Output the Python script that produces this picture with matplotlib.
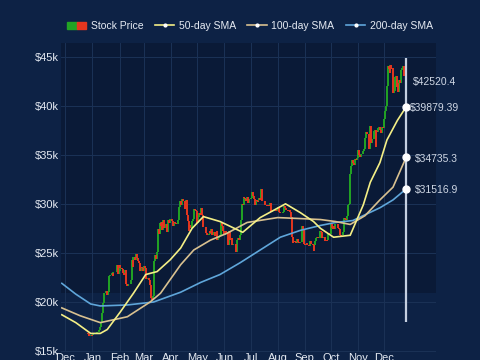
import numpy as np
import pandas as pd
import matplotlib
matplotlib.use('Agg')
import matplotlib.pyplot as plt
import matplotlib.dates as mdates
from matplotlib.lines import Line2D
from matplotlib.patches import Patch
from matplotlib.legend_handler import HandlerTuple
from matplotlib.ticker import FuncFormatter

# daily closes (k$), 2022-12-27 .. 2023-12-26
start = '2022-12-27'
prev_close_k = 16.84
closes_k = [
    16.72, 16.55, 16.64, 16.60, 16.55,
    # jan
    16.60, 16.70, 16.70, 16.85, 16.83, 16.95, 16.94, 17.09, 17.19, 17.44, 17.94, 18.85, 19.93, 20.95, 20.87, 21.17,
    21.16, 20.68, 21.07, 22.67, 22.78, 22.71, 22.93, 22.64, 23.06, 23.01, 23.08, 23.03, 23.77, 22.84, 23.14,
    # feb
    23.72, 23.47, 23.43, 23.33, 22.94, 22.76, 23.26, 22.96, 21.80, 21.63, 21.86, 21.79, 21.79, 22.20, 24.32, 23.52,
    24.57, 24.63, 24.31, 24.84, 24.44, 24.19, 23.95, 23.20, 23.17, 23.55, 23.49, 23.15,
    # mar
    23.65, 23.47, 22.36, 22.35, 22.43, 22.41, 22.20, 21.70, 20.36, 20.19, 20.63, 22.16, 24.20, 24.75, 24.38, 25.05,
    27.42, 26.97, 28.04, 27.77, 28.18, 27.31, 28.33, 27.49, 27.49, 27.99, 27.14, 27.27, 28.35, 28.03, 28.48,
    # apr
    28.45, 28.22, 27.79, 28.17, 28.18, 28.04, 27.93, 27.95, 28.33, 29.65, 30.24, 29.92, 30.40, 30.49, 30.32, 30.32,
    29.45, 30.40, 28.82, 28.25, 27.28, 27.82, 27.59, 27.51, 28.30, 28.42, 29.47, 29.34, 29.25, 29.27,
    # may
    28.09, 28.68, 29.03, 28.85, 29.53, 28.90, 28.45, 27.69, 27.65, 27.62, 27.00, 26.80, 26.78, 26.93, 27.19, 27.03,
    27.40, 26.83, 26.89, 27.10, 26.75, 26.85, 27.23, 26.33, 26.48, 26.72, 26.87, 28.08, 27.75, 27.70, 27.22,
    # jun
    26.82, 27.25, 27.07, 27.12, 25.76, 27.24, 26.35, 26.50, 26.48, 25.84, 25.94, 25.90, 25.92, 25.12, 25.58, 26.34,
    26.50, 26.34, 26.85, 28.33, 30.03, 29.91, 30.69, 30.55, 30.47, 30.27, 30.70, 30.08, 30.45, 30.48,
    # jul
    30.59, 30.62, 31.16, 30.77, 30.51, 29.91, 30.35, 30.29, 30.17, 30.41, 30.62, 30.39, 31.48, 30.32, 30.29, 30.25,
    30.15, 29.86, 29.91, 29.80, 29.91, 29.79, 30.08, 29.18, 29.23, 29.35, 29.22, 29.31, 29.35, 29.28, 29.23,
    # aug
    29.71, 29.19, 29.18, 29.07, 29.04, 29.04, 29.18, 29.77, 29.56, 29.43, 29.40, 29.42, 29.28, 29.41, 29.17, 28.70,
    26.66, 26.05, 26.10, 26.19, 26.12, 26.05, 26.43, 26.16, 26.06, 26.01, 26.09, 26.11, 27.73, 27.30, 25.93,
    # sep
    25.80, 25.87, 25.97, 25.81, 25.78, 25.75, 26.24, 25.90, 25.90, 25.84, 25.16, 25.84, 26.23, 26.53, 26.61, 26.57,
    26.53, 26.76, 27.21, 27.13, 26.57, 26.58, 26.58, 26.26, 26.30, 26.22, 26.35, 27.02, 26.91, 26.97,
    # oct
    27.98, 27.53, 27.43, 27.79, 27.41, 27.95, 27.97, 27.94, 27.59, 27.39, 26.87, 26.76, 26.86, 26.86, 27.15, 28.52,
    28.42, 28.33, 28.72, 29.68, 29.92, 29.99, 33.09, 33.90, 34.50, 34.16, 33.91, 34.09, 34.54, 34.50, 34.67,
    # nov
    35.44, 34.94, 34.73, 35.08, 35.05, 35.04, 35.42, 35.63, 36.70, 37.31, 37.13, 37.07, 36.50, 35.54, 37.88, 36.15,
    36.60, 36.57, 37.39, 37.48, 35.81, 37.43, 37.29, 37.72, 37.80, 37.48, 37.25, 37.83, 37.86, 37.71,
    # dec
    38.69, 39.47, 39.98, 41.98, 44.08, 43.77, 43.29, 44.17, 43.73, 43.79, 41.24, 41.45, 42.89, 43.02, 41.94, 42.28,
    41.37, 42.66, 42.27, 43.65, 43.86, 43.99, 43.74, 43.02, 43.61, 42.5204,
]

# moving averages (k$)
sma50_dates = ['2022-11-27', '2022-12-13', '2022-12-30', '2023-01-10', '2023-01-18', '2023-02-02', '2023-02-17',
               '2023-03-03', '2023-03-16', '2023-03-31', '2023-04-12', '2023-04-25', '2023-05-08', '2023-05-27',
               '2023-06-22', '2023-07-12', '2023-08-10', '2023-08-27', '2023-09-11', '2023-09-19', '2023-10-04',
               '2023-10-23', '2023-11-07', '2023-11-15', '2023-11-26', '2023-12-04', '2023-12-16', '2023-12-26']
sma50_k = [18.7, 17.9, 16.8, 16.8, 17.2, 19.0, 20.9, 22.8, 23.1, 24.3, 25.5, 27.5, 28.7, 28.2,
           27.1, 28.6, 30.0, 29.1, 28.2, 27.5, 26.6, 26.8, 29.9, 32.2, 34.2, 36.5, 38.5, 39.87939]

sma100_dates = ['2022-11-27', '2022-12-18', '2023-01-10', '2023-02-10', '2023-03-08', '2023-03-20', '2023-04-12',
                '2023-04-27', '2023-05-16', '2023-06-04', '2023-06-27', '2023-08-01', '2023-08-27', '2023-09-19',
                '2023-10-06', '2023-10-23', '2023-11-09', '2023-11-26', '2023-12-11', '2023-12-26']
sma100_k = [19.4, 18.6, 17.9, 18.5, 20.0, 20.9, 23.8, 25.3, 26.3, 27.0, 28.1, 28.6, 28.5, 28.4,
            28.2, 27.9, 28.8, 30.4, 31.7, 34.7353]

sma200_dates = ['2022-11-27', '2022-12-13', '2022-12-30', '2023-01-10', '2023-02-10', '2023-03-12', '2023-04-12',
                '2023-05-05', '2023-05-27', '2023-06-19', '2023-07-12', '2023-08-04', '2023-08-27', '2023-09-19',
                '2023-10-06', '2023-10-26', '2023-11-26', '2023-12-11', '2023-12-26']
sma200_k = [21.9, 20.8, 19.8, 19.6, 19.7, 20.0, 21.0, 22.0, 22.8, 24.0, 25.3, 26.6, 27.3, 27.8,
            28.1, 28.3, 29.6, 30.4, 31.5169]

end_labels = ['$42520.4', '$39879.39', '$34735.3', '$31516.9']

# colours
bg = '#0d2245'
bg_in = '#0a1a37'
grid_c = '#1b3256'
up_c = '#22a424'
dn_c = '#e6361f'
c50 = '#f4ef86'
c100 = '#d9c190'
c200 = '#5fa6da'
txt = '#e6ebf3'

plt.rcParams['font.family'] = ['Liberation Sans', 'DejaVu Sans']

dates = pd.date_range(start, periods=len(closes_k), freq='D')
close = np.array(closes_k) * 1000
opn = np.concatenate(([prev_close_k * 1000], close[:-1]))

fig = plt.figure(figsize=(4.8, 3.6), dpi=100, facecolor=bg)
ax = fig.add_axes([0.127, 0.022, 0.781, 0.859])
ax.set_facecolor(bg)

x0 = pd.Timestamp('2022-11-26')
x1 = pd.Timestamp('2024-01-29')
ax.set_xlim(x0, x1)
ax.set_ylim(14900, 46400)

# darker band of the upper plot area
ax.axhspan(20900, 46400, color=bg_in, zorder=0, lw=0)

months = pd.date_range('2022-12-01', '2023-12-01', freq='MS')
ax.set_xticks(months)
ax.xaxis.set_major_formatter(mdates.DateFormatter('%b'))
ax.set_yticks([15000, 20000, 25000, 30000, 35000, 40000, 45000])
ax.yaxis.set_major_formatter(FuncFormatter(lambda v, p: '$%dk' % (v / 1000)))
ax.grid(True, color=grid_c, lw=0.7, zorder=0.5)
ax.tick_params(length=0, colors=txt, labelsize=8)
ax.tick_params(axis='y', pad=1.5)
ax.tick_params(axis='x', pad=1.0)
for s in ax.spines.values():
    s.set_visible(False)

# candles
up = close >= opn
lo = np.minimum(opn, close)
hi = np.maximum(opn, close)
ax.vlines(dates[up], lo[up], hi[up], color=up_c, lw=1.4, zorder=2)
ax.vlines(dates[~up], lo[~up], hi[~up], color=dn_c, lw=1.4, zorder=2)

# moving averages
ax.plot(pd.to_datetime(sma200_dates), np.array(sma200_k) * 1000, color=c200, lw=1.2, zorder=3)
ax.plot(pd.to_datetime(sma100_dates), np.array(sma100_k) * 1000, color=c100, lw=1.2, zorder=3)
ax.plot(pd.to_datetime(sma50_dates), np.array(sma50_k) * 1000, color=c50, lw=1.2, zorder=3)

# end line + markers + labels
last = dates[-1]
ax.vlines(last, 18000, 44900, color='#c4cfe0', lw=1.6, zorder=4)
ends = [sma50_k[-1] * 1000, sma100_k[-1] * 1000, sma200_k[-1] * 1000]
ax.plot([last] * 3, ends, 'o', color='white', markersize=5, zorder=5)
ax.annotate(end_labels[0], (last, close[-1]), xytext=(5, -1), textcoords='offset points',
            color='#cfd7e4', fontsize=7.5, va='center', ha='left', annotation_clip=False)
for lab, v, dx in zip(end_labels[1:], ends, [3, 6, 6]):
    ax.annotate(lab, (last, v), xytext=(dx, -1), textcoords='offset points',
                color='#cfd7e4', fontsize=7.5, va='center', ha='left', annotation_clip=False)

# legend
handles = [(Patch(color=up_c), Patch(color=dn_c)),
           Line2D([], [], color=c50, lw=1.2, marker='o', markersize=2, mfc='white', mec='white'),
           Line2D([], [], color=c100, lw=1.2, marker='o', markersize=2, mfc='white', mec='white'),
           Line2D([], [], color=c200, lw=1.2, marker='o', markersize=2, mfc='white', mec='white')]
labels = ['Stock Price', '50-day SMA', '100-day SMA', '200-day SMA']
leg = fig.legend(handles, labels, loc='center', bbox_to_anchor=(0.52, 0.928), ncol=4, frameon=False,
                 fontsize=7.5, handlelength=1.9, handletextpad=0.4, columnspacing=1.1,
                 handler_map={tuple: HandlerTuple(ndivide=None, pad=0)})
for t in leg.get_texts():
    t.set_color(txt)

fig.savefig('out.png', dpi=100, facecolor=bg)
